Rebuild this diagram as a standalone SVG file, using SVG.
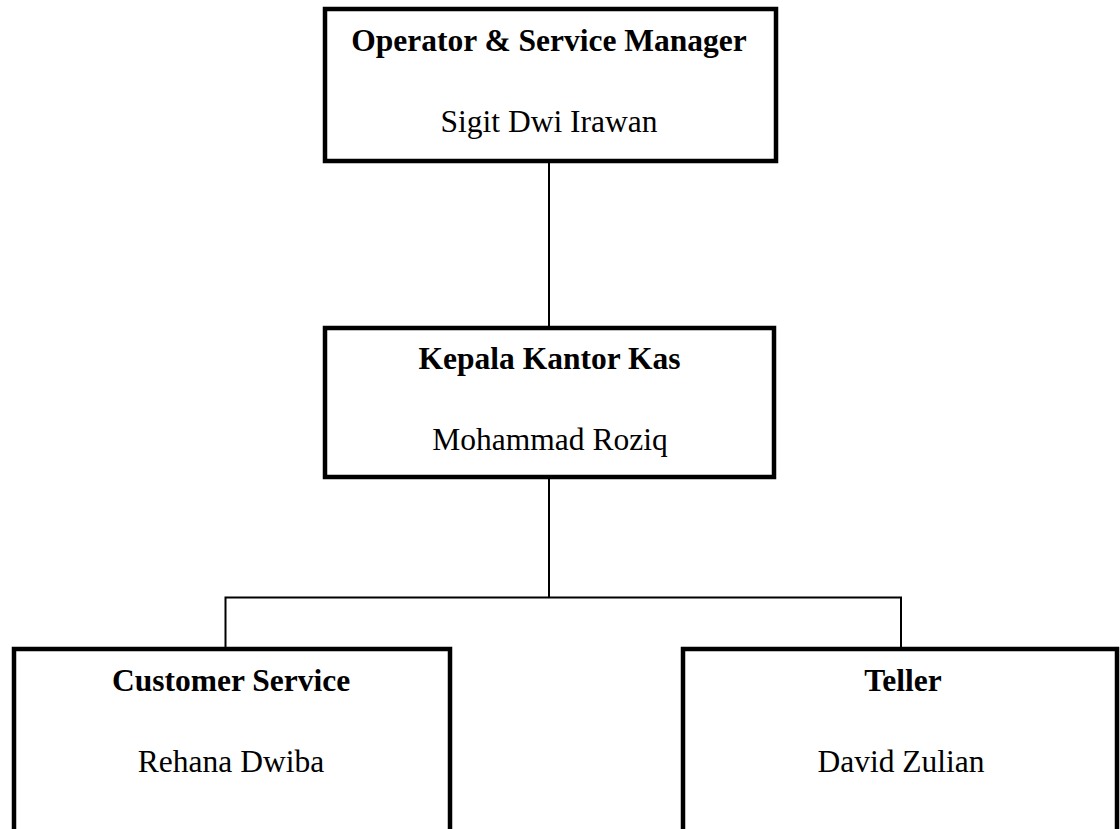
<svg xmlns="http://www.w3.org/2000/svg" width="1120" height="829" viewBox="0 0 1120 829">
<style>
.box{fill:#fff;stroke:#000;stroke-width:4.5}
.t{font-family:"Liberation Serif","Times New Roman",serif;font-size:31.5px;font-weight:bold;fill:#000;text-anchor:middle}
.n{font-family:"Liberation Serif","Times New Roman",serif;font-size:31.5px;fill:#000;text-anchor:middle}
.c{fill:none;stroke:#000;stroke-width:2}
</style>
<rect width="1120" height="829" fill="#fff"/>
<g id="connectors">
<line class="c" x1="549" y1="162" x2="549" y2="327"/>
<line class="c" x1="549" y1="478" x2="549" y2="598"/>
<polyline class="c" points="225.5,649 225.5,597.5 901,597.5 901,649"/>
</g>
<g id="node-osm">
<rect class="box" x="325" y="9" width="451" height="152"/>
<text class="t" x="549" y="51">Operator &amp; Service Manager</text>
<text class="n" x="549" y="132">Sigit Dwi Irawan</text>
</g>
<g id="node-kkk">
<rect class="box" x="325" y="328" width="449" height="149"/>
<text class="t" x="549.5" y="369">Kepala Kantor Kas</text>
<text class="n" x="550" y="450">Mohammad Roziq</text>
</g>
<g id="node-cs">
<rect class="box" x="14" y="649" width="436" height="260"/>
<text class="t" x="231" y="691">Customer Service</text>
<text class="n" x="231" y="772">Rehana Dwiba</text>
</g>
<g id="node-teller">
<rect class="box" x="683" y="649" width="434" height="260"/>
<text class="t" x="903" y="691">Teller</text>
<text class="n" x="901" y="772">David Zulian</text>
</g>
</svg>
